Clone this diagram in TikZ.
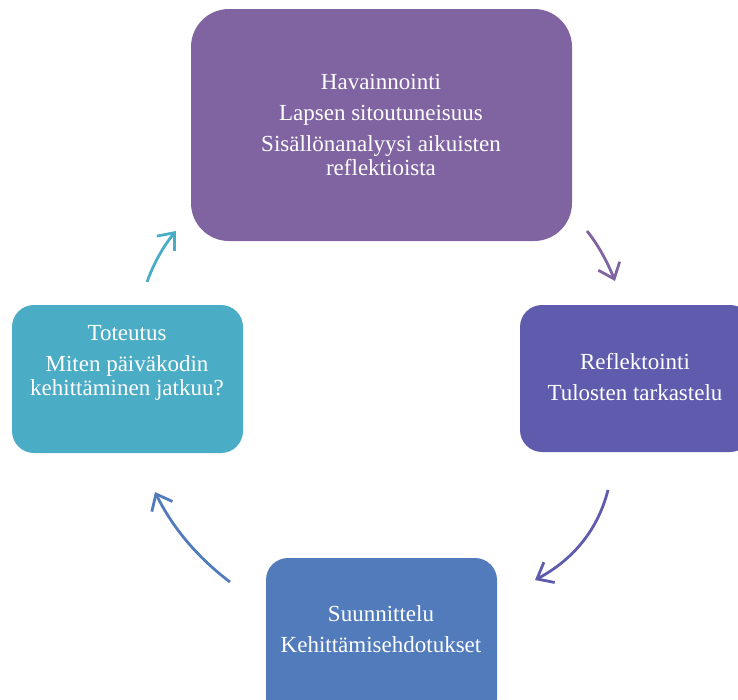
\documentclass[tikz,border=0pt]{standalone}
\usepackage{fontspec}
\setmainfont{Liberation Serif}
\usetikzlibrary{arrows.meta}
\definecolor{cTop}{HTML}{8064A2}
\definecolor{cRight}{HTML}{5F5CAE}
\definecolor{cBottom}{HTML}{527BBC}
\definecolor{cLeft}{HTML}{4BACC6}
\begin{document}
\begin{tikzpicture}[x=1pt,y=-1pt,
  label/.style={text=white, align=center, font=\fontsize{23}{24}\selectfont, inner sep=0pt},
  arr/.style={line width=2.8pt, -{Straight Barb[length=14pt,width=23pt,line width=2.8pt]}}]
\path[use as bounding box] (0,0) rectangle (738,699);
\clip (0,0) rectangle (738,699);
% boxes
\path[fill=cTop, rounded corners=38pt] (191,9) rectangle (572,241);
\path[fill=cRight, rounded corners=22pt] (520,305) rectangle (752,452);
\path[fill=cBottom, rounded corners=22pt] (266,558) rectangle (497,720);
\path[fill=cLeft, rounded corners=22pt] (12,305) rectangle (243,453);
% texts
\node[label, anchor=base] (tT) at (381,175) {Havainnointi\\[7pt] Lapsen sitoutuneisuus\\[7pt] Sisällönanalyysi aikuisten\\ reflektioista};
\node[label, anchor=base] (tR) at (635,400) {Reflektointi\\[7pt] Tulosten tarkastelu};
\node[label, anchor=base] (tB) at (381,652) {Suunnittelu\\[7pt] Kehittämisehdotukset};
\node[label, anchor=base] (tL) at (127,395) {Toteutus\\[7pt] Miten päiväkodin\\ kehittäminen jatkuu?};
% arrows
\coordinate (a1s) at (587,231); \coordinate (a1e) at (615,281);
\coordinate (a2s) at (608,490); \coordinate (a2e) at (535,580);
\coordinate (a3s) at (230,582); \coordinate (a3e) at (155,492);
\coordinate (a4s) at (147,282); \coordinate (a4e) at (176,231);
\draw[arr, cTop] (a1s) .. controls (597.7,244.3) and (607,261) .. (a1e);
\draw[arr, cRight] (a2s) .. controls (598,529.3) and (573.7,559.3) .. (a2e);
\draw[arr, cBottom] (a3s) .. controls (197.3,557.3) and (172.3,527.3) .. (a3e);
\draw[arr, cLeft] (a4s) .. controls (153.7,263.3) and (163.3,246.3) .. (a4e);
\end{tikzpicture}
\end{document}
